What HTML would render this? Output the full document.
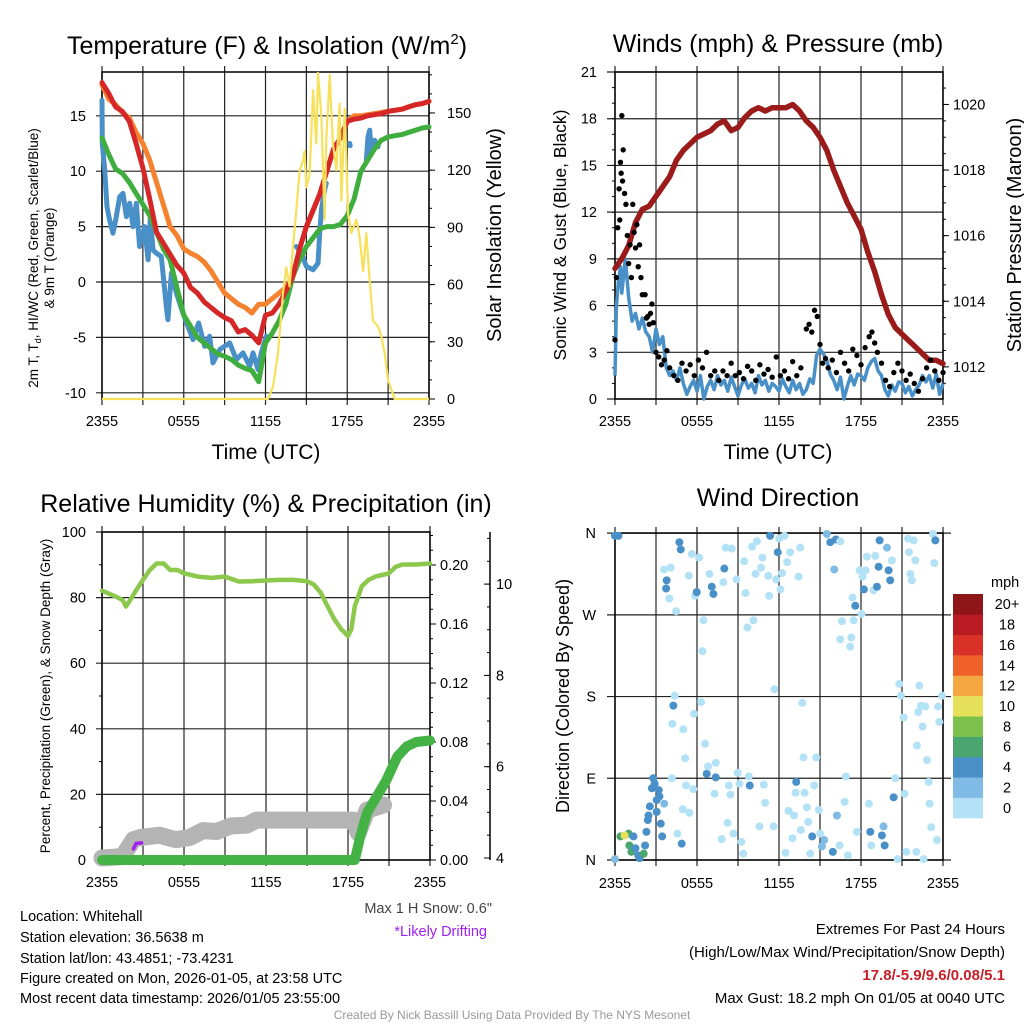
<!DOCTYPE html>
<html><head><meta charset="utf-8"><style>
html,body{margin:0;padding:0;background:#fff}
svg{display:block;font-family:"Liberation Sans",sans-serif}
</style></head><body>
<svg id="fig" width="1024" height="1024" viewBox="0 0 1024 1024" xmlns="http://www.w3.org/2000/svg">
<rect width="1024" height="1024" fill="#fff"/>
<g id="g1"></g>
<g id="g2"></g>
<g id="g3"></g>
<g id="g4"></g>
<text x="267" y="54" font-size="25" text-anchor="middle">Temperature (F) &amp; Insolation (W/m<tspan dy="-10" font-size="15">2</tspan><tspan dy="10">)</tspan></text>
<text x="778" y="52" font-size="25" text-anchor="middle">Winds (mph) &amp; Pressure (mb)</text>
<text x="266" y="512" font-size="25" text-anchor="middle">Relative Humidity (%) &amp; Precipitation (in)</text>
<text x="778" y="506" font-size="25" text-anchor="middle">Wind Direction</text>
<text x="266" y="459" font-size="21" text-anchor="middle">Time (UTC)</text>
<text x="778" y="459" font-size="21" text-anchor="middle">Time (UTC)</text>
<text transform="translate(38,258) rotate(-90)" font-size="13.5" text-anchor="middle">2m T, T<tspan font-size="9" dy="3">d</tspan><tspan dy="-3">, HI/WC (Red, Green, Scarlet/Blue)</tspan></text>
<text transform="translate(54,258) rotate(-90)" font-size="13.5" text-anchor="middle">&amp; 9m T (Orange)</text>
<text transform="translate(501,235) rotate(-90)" font-size="20" text-anchor="middle">Solar Insolation (Yellow)</text>
<text transform="translate(566,235) rotate(-90)" font-size="17.5" text-anchor="middle">Sonic Wind &amp; Gust (Blue, Black)</text>
<text transform="translate(1021,235) rotate(-90)" font-size="20" text-anchor="middle">Station Pressure (Maroon)</text>
<text transform="translate(50,696) rotate(-90)" font-size="13.5" text-anchor="middle">Percent, Precipitation (Green), &amp; Snow Depth (Gray)</text>
<text transform="translate(569,696) rotate(-90)" font-size="18" text-anchor="middle">Direction (Colored By Speed)</text>
<g font-size="14.5">
<text x="20" y="921">Location: Whitehall</text>
<text x="20" y="942">Station elevation: 36.5638 m</text>
<text x="20" y="963">Station lat/lon: 43.4851; -73.4231</text>
<text x="20" y="983">Figure created on Mon, 2026-01-05, at 23:58 UTC</text>
<text x="20" y="1003">Most recent data timestamp: 2026/01/05 23:55:00</text>
</g>
<text x="492" y="913" font-size="14.5" text-anchor="end" fill="#444">Max 1 H Snow: 0.6"</text>
<text x="487" y="936" font-size="14.5" text-anchor="end" fill="#a020f0">*Likely Drifting</text>
<g font-size="15" text-anchor="end">
<text x="1005" y="934">Extremes For Past 24 Hours</text>
<text x="1005" y="957">(High/Low/Max Wind/Precipitation/Snow Depth)</text>
<text x="1005" y="980" fill="#c8202a" font-weight="bold">17.8/-5.9/9.6/0.08/5.1</text>
<text x="1005" y="1003">Max Gust: 18.2 mph On 01/05 at 0040 UTC</text>
</g>
<text x="512" y="1019" font-size="12" text-anchor="middle" fill="#999">Created By Nick Bassill Using Data Provided By The NYS Mesonet</text>
</svg>
<script>
// ===== Panel 1 data =====
const tempH = [0,0.5,1,1.5,2,2.5,3,3.5,4,4.5,5,5.5,6,6.5,7,7.5,8,8.5,9,9.5,10,10.5,11,11.5,12,12.5,13,13.5,14,14.5,15,15.5,16,16.5,17,17.5,18,18.5,19,19.5,20,20.5,21,21.5,22,22.5,23,23.5,24];
const tempRed = [18,17,15.8,15.4,14.5,12.5,10.3,7.5,4.5,3.5,2.5,1.5,0.8,-0.5,-1,-1.8,-2.3,-2.8,-3.2,-3.5,-4.5,-4.3,-4.8,-5.5,-3,-2.8,-2,-0.8,0.5,3,5,6.5,8,10,12,13,14.5,14.7,14.8,15,15.1,15.2,15.4,15.5,15.6,15.8,16,16.1,16.3];
const temp9m = [17.8,16.5,16,15.3,14.8,13.5,12.5,11,9,7,5,4.2,3,2.6,2.3,1.8,1,0,-1,-1.5,-2,-2.3,-2.8,-2,-2,-1.5,-1,-0.5,0.5,3,5,6.5,8,10,12,13,14.5,15,15,15.1,15.2,15.3,15.4,15.5,15.6,15.8,16,16.1,16.3];
const dewpt = [13,11.5,10.2,9.8,9,8,7,6,4.5,3,2,-0.5,-3,-4,-5,-5.5,-6,-6.5,-6.7,-7,-7.5,-7.8,-8,-9,-5.5,-4.6,-3.5,-2,0.5,2,3.2,4,4.8,5,5,5.2,6,7.5,10,11,12,12.8,13.1,13.2,13.3,13.5,13.7,13.9,14];
const chillH = [0,0.02,0.2,0.37,0.56,0.81,1.05,1.3,1.54,1.79,2.03,2.28,2.52,2.76,3.13,3.38,3.55,3.74,3.99,4.35,4.72,4.84,5.09,5.46,5.94,6.31,6.68,7.09,7.54,7.9,8.15,8.64,9.37,9.86,10.35,10.84,11.08,11.45,11.69,12.06,null,14.26,14.63,15,15.49,15.85,15.98,16.1,16.34,16.46,null,18.18,18.22,null,19.4,19.52,19.65,19.77,20.01,20.26];
const chillV = [16.4,12.5,10.1,6.8,5.6,4.4,5.9,7.7,8,5.9,7.1,5,7.1,3.2,5,2,5.9,2.9,2.6,2.3,-2.2,-3.4,0.8,-1,-2.8,-4,-5.2,-3.7,-5.8,-4.9,-7.3,-6.1,-5.5,-7,-6.4,-7.6,-6.4,-7.9,-6.4,-4.9,null,3.2,2.6,1.4,1.1,1.7,4.4,6.5,8.3,8.9,null,12.5,12.3,null,11,13.1,13.7,11.6,12.8,12.2];
const solarH = [0,12.18,12.55,12.92,13.28,13.53,13.77,14.02,14.26,14.51,14.76,14.87,15.0,15.24,15.49,15.73,15.85,16.1,16.34,16.46,16.71,16.95,17.2,17.44,17.57,17.81,18.06,18.3,18.67,18.91,19.16,19.4,19.65,19.89,20.26,20.5,20.75,20.99,21.48,24];
const solarW = [0,0,6.5,24,55,69,59,80,99,120,125,130,111,118,162,134,171,148,94,136,170,134,120,155,104,152,97,87,94,85,67,87,62,41,38,33,24,10,0,0];
const tempTicks = [-10,-5,0,5,10,15];
const solarTicks = [0,30,60,90,120,150];
const timeTicks = ["2355","0555","1155","1755","2355"];
// ===== Panel 2 data =====
const presH = tempH;
const pressure = [1015,1015.3,1015.7,1016.4,1016.8,1016.9,1017.2,1017.5,1017.8,1018.3,1018.6,1018.8,1019,1019.1,1019.2,1019.4,1019.5,1019.2,1019.3,1019.6,1019.8,1019.9,1019.8,1019.9,1019.9,1019.9,1020,1019.8,1019.5,1019.3,1019,1018.6,1018,1017.5,1017,1016.6,1016.2,1015.5,1014.9,1014.2,1013.6,1013.2,1013,1012.8,1012.6,1012.4,1012.2,1012.2,1012.1];
const windH = [0,0.1,0.25,0.4,0.5,0.75,1,1.25,1.5,1.75,2,2.25,2.5,2.75,3,3.25,3.5,3.75,4,4.25,4.5,4.75,5,5.25,5.5,5.75,6,6.25,6.5,6.75,7,7.25,7.5,7.75,8,8.25,8.5,8.75,9,9.25,9.5,9.75,10,10.25,10.5,10.75,11,11.25,11.5,11.75,12,12.25,12.5,12.75,13,13.25,13.5,13.75,14,14.25,14.5,14.75,15,15.25,15.5,15.75,16,16.25,16.5,16.75,17,17.25,17.5,17.75,18,18.25,18.5,18.75,19,19.25,19.5,19.75,20,20.25,20.5,20.75,21,21.25,21.5,21.75,22,22.25,22.5,22.75,23,23.25,23.5,23.75,24];
const windV = [1.5,6,7.5,8.5,6.8,9,6.5,5,5.5,4.5,5.2,4.3,4,3,4.5,3.5,4,2,1.5,1.8,1.2,2,1,0.3,0.8,1.2,0.5,1.5,0,0.8,1.2,0.6,1.5,0.9,1.2,0.5,1.4,0.8,0.2,0.9,1.3,0.7,1,0.4,1.5,0.9,1.2,0.5,1,0.8,0.5,1.3,0.8,0.4,1.2,0.6,1,0.3,0.6,1.3,1,2.8,3.2,2.9,2.5,1.6,1.2,0.6,1.4,0,0.8,1.5,0.9,1.6,1.5,1.2,2,2.4,2.6,1.8,1.5,0.6,0.2,0.9,0.5,1.1,1,0.4,0.8,0.2,0.6,0.9,1.5,1.1,1.5,0.7,1.6,0.3,1];
const gustH = [0,0.1,0.2,0.3,0.35,0.4,0.45,0.5,0.55,0.6,0.7,0.8,0.9,1.0,1.1,1.2,1.3,1.4,1.5,1.6,1.7,1.8,1.9,2.0,2.2,2.3,2.4,2.5,2.6,2.7,2.8,3.0,3.2,3.4,3.6,3.8,4.0,4.3,4.6,4.9,5.2,5.5,5.8,6.1,6.4,6.7,7,7.3,7.6,7.9,8.2,8.5,8.8,9.1,9.4,9.7,10,10.3,10.6,10.9,11.2,11.5,11.8,12.1,12.4,12.7,13,13.3,13.6,14,14.2,14.4,14.6,14.8,15,15.2,15.4,15.6,15.9,16.2,16.5,16.8,17.1,17.4,17.7,18,18.3,18.6,18.8,19,19.2,19.5,19.8,20.1,20.4,20.7,21,21.3,21.6,21.9,22.2,22.5,22.8,23.1,23.4,23.7,24];
const gustV = [3.8,7.8,11,13.5,11.5,15.2,14.5,18.2,14,16,13.2,12.5,10.5,8.7,9.9,7.8,12.5,10.7,9.7,11.2,8.5,9.9,7.8,6.7,6.7,5.2,5.3,4.8,5.5,6.1,4.9,3,2.7,2.2,2.5,3.1,2,1.5,1.2,2.3,1.8,2.2,1.5,2.5,2,3,1.5,1.8,1.2,1.8,1.5,2.3,1.5,1.7,1.3,2.1,1.8,1.2,2.2,1.6,1.9,1.4,2.7,1.5,1.8,1.3,2.4,1.5,2,4.5,4.8,4.3,5.7,5.3,3.5,2.3,2.6,2,2.5,1.7,3,2.3,1.8,3.2,2.8,2.2,3.3,4,4.3,3.6,3,2.3,1.2,0.8,1.7,2.3,1.8,1.2,1.6,1,0.5,1.3,2,2.5,1.8,1.2,1.7];
const windTicks = [0,3,6,9,12,15,18,21];
const presTicks = [1012,1014,1016,1018,1020];
// ===== Panel 3 data =====
const rhH = [0,1,1.5,1.75,2,2.5,3,3.5,4,4.5,5,5.5,6,7,8,9,10,11,12,13,14,15,15.5,16,16.5,17,17.5,18,18.25,18.5,18.75,19,19.5,20,20.5,21,21.5,22,23,24];
const rhV = [82.1,80.3,79.3,77.3,78.8,82.3,85.4,88.4,90.4,90.4,88.4,88.4,87.4,86.4,86,86.4,84.9,85,85.2,85.4,85.4,85,84,81.5,77.4,73.4,70.4,68.3,70.4,77.4,80.3,83.4,85.4,86.4,86.9,87.4,89.4,90.1,90.1,90.4];
const precipH = [0,18.5,18.9,19.4,20.1,20.8,21.6,22.3,23,24];
const precipV = [0,0,0.016,0.032,0.043,0.054,0.070,0.077,0.080,0.081];
const snowH = [0,1.5,2.3,2.8,4.2,5.4,6.4,7.4,8.4,9.4,10.6,11.3,18.4,18.75,19.4,20.6];
const snowV = [4.0,4.03,4.4,4.45,4.5,4.4,4.45,4.6,4.58,4.7,4.72,4.83,4.83,4.55,5.05,5.16];
const driftH = [2.3,2.5,2.9];
const driftV = [4.2,4.32,4.33];
const rhTicks = [0,20,40,60,80,100];
const precipTicks = [0,0.04,0.08,0.12,0.16,0.2];
const snowTicks = [4,6,8,10];
// ===== Panel 4 data =====
const dirH = [0,0.25,0,0.4,1.0,1.05,1.2,1.35,1.5,1.7,1.8,2.1,2.2,2.3,2.4,2.45,2.55,2.7,2.8,2.9,3.05,3.2,3.25,3.05,3.35,3.45,3.6,0.7,
3.59,3.78,3.74,3.98,4.08,4.47,4.71,4.81,4.15,4.27,4.37,4.2,4.57,4.88,5.0,4.96,5.2,5.13,5.44,5.4,5.62,5.74,5.79,5.86,5.98,6.15,6.3,6.4,6.47,6.59,6.71,6.81,6.91,7.08,7.2,7.37,7.37,7.28,7.81,7.93,8.0,8.1,8.23,8.33,8.45,8.54,8.67,8.89,8.98,9.11,9.25,9.38,9.45,9.55,9.69,9.86,9.79,10.03,10.13,10.28,10.38,10.57,10.69,10.79,10.89,10.99,11.21,11.28,11.35,11.6,11.67,11.79,11.91,12.01,12.11,12.23,12.4,12.48,12.6,12.7,12.82,12.99,13.11,13.21,13.26,13.43,13.55,13.6,13.7,13.79,13.87,14.04,14.14,14.28,14.43,14.58,14.72,14.92,15.01,15.14,15.31,15.5,15.75,15.94,16.04,16.16,16.24,16.43,16.48,16.6,16.48,16.8,16.89,17.04,17.21,17.29,17.38,17.46,17.58,17.7,17.9,18.04,18.12,18.21,18.33,18.43,18.58,18.68,18.75,18.92,19.04,19.17,19.29,19.36,19.53,19.65,19.73,19.9,20.02,20.14,20.26,20.39,20.51,20.68,20.8,20.92,21.12,21.19,21.31,21.44,21.51,21.61,21.73,21.85,21.97,22.05,22.09,22.19,22.27,22.39,22.51,22.58,22.71,22.83,22.95,23.02,23.14,23.27,23.36,23.44,23.56,23.63,23.73,23.93];
const dirDeg = [357,357,1,26,29,16,9,26,13,5,2,7,16,31,44,49,59,79,90,84,66,77,70,53,40,26,62,27,
320,308,299,288,322,274,350,342,90,170,181,150,29,18,144,56,82,112,52,313,337,78,161,291,295,333,174,230,264,128,95,103,315,301,293,107,91,73,23,306,321,344,41,82,72,343,29,309,96,84,20,7,329,294,256,82,92,345,264,315,351,37,322,333,83,63,313,291,357,37,188,309,339,354,298,316,357,8,328,54,339,24,49,74,86,312,344,33,173,113,74,58,42,7,26,82,113,55,29,15,22,359,350,9,320,353,49,16,351,263,243,64,92,5,235,245,289,264,280,31,319,271,312,298,319,334,62,31,16,297,335,301,323,352,27,37,16,344,319,308,330,69,90,1,194,181,157,73,9,354,339,315,308,352,330,9,126,163,192,170,147,1,169,110,86,62,36,359,327,352,22,169,152,181];
const dirSpd = [5,5,3,7,7,7,7,5,5,5,5,7,5,5,5,5,5,5,5,5,5,5,5,5,5,5,3,10,
1,5,5,1,1,1,5,5,1,5,1,1,1,5,1,1,1,1,1,1,1,1,1,1,5,1,1,1,1,1,5,1,1,5,5,1,5,1,1,1,5,1,1,1,1,1,1,1,1,1,1,1,1,1,1,5,1,1,1,1,1,1,1,1,1,1,1,1,5,1,1,1,5,1,1,1,1,1,1,1,1,1,1,1,5,1,1,1,1,1,1,1,1,1,5,1,1,1,1,3,3,3,5,5,3,5,3,1,1,1,1,1,1,1,1,1,1,1,5,1,1,1,1,5,1,1,1,5,1,1,1,5,5,5,5,3,5,3,5,5,1,5,1,1,1,1,1,1,1,1,1,1,1,1,1,1,1,1,1,1,1,1,1,1,1,1,1,1,1,5,1,1,1,1];
const cbLabels = ["0","2","4","6","8","10","12","14","16","18","20+"];
const cbColors = ["#b3e2f6","#7fbbe4","#4a90c8","#4aa66e","#7bc14a","#e6e05a","#f5a742","#ef6129","#d93127","#b81c22","#8e1518"];
const dirTicks = ["N","E","S","W","N"];

const NS="http://www.w3.org/2000/svg";
function el(parent, tag, attrs){const e=document.createElementNS(NS,tag);for(const k in attrs)e.setAttribute(k,attrs[k]);parent.appendChild(e);return e;}
function pathD(hs, vs, sx, sy){let d="",pen=false;for(let i=0;i<hs.length;i++){if(hs[i]===null||vs[i]===null){pen=false;continue;}d+=(pen?"L":"M")+sx(hs[i]).toFixed(1)+","+sy(vs[i]).toFixed(1);pen=true;}return d;}
function grid(g,x0,x1,y0,y1,yVals,sy,extL,extR){
  for(let k=0;k<=8;k++){const x=x0+k*(x1-x0)/8;
    const l=el(g,"line",{x1:x,x2:x,y1:y0-6,y2:y1+6,stroke:"#222","stroke-width":1.2});
    
    }
  yVals.forEach(v=>{const y=sy(v);
    const l=el(g,"line",{x1:x0-extL,x2:x1+extR,y1:y,y2:y,stroke:"#222","stroke-width":1.2});
    
    });
  const r=el(g,"rect",{x:x0,y:y0,width:x1-x0,height:y1-y0,fill:"none",stroke:"#000","stroke-width":1.5});
  
  
}
function xlabels(g,x0,x1,y){timeTicks.forEach((t,i)=>{
  const e=el(g,"text",{x:x0+i*(x1-x0)/4,y:y,"font-size":14.5,"text-anchor":"middle"});e.textContent=t;
  
  });}
function ylabel(g,x,y,txt,anchor){const e=el(g,"text",{x:x,y:y+5,"font-size":14.5,"text-anchor":anchor});e.textContent=txt;
  
  return e;}

// ---------- Panel 1 ----------
(function(){
const g=document.getElementById("g1");
const x0=102,x1=429,y0=72,y1=399;
const sx=h=>x0+h*(x1-x0)/24, sy=v=>282-v*11.08, ss=w=>399-w*1.907;
grid(g,x0,x1,y0,y1,tempTicks,sy,6,0);
tempTicks.forEach(v=>ylabel(g,86,sy(v),String(v),"end"));
solarTicks.forEach(v=>{ylabel(g,447,ss(v),String(v),"start");el(g,"line",{x1:x1,x2:x1+6,y1:ss(v),y2:ss(v),stroke:"#000"});});
for(let w=10;w<180;w+=10){el(g,"line",{x1:x1,x2:x1+3,y1:ss(w),y2:ss(w),stroke:"#000"});}
xlabels(g,x0,x1,426);
const series=[[chillH,chillV,"#4a90c8","wind-chill-line"],[tempH,dewpt,"#3fae3f","dewpoint-line"],[tempH,temp9m,"#f5822f","temp-9m-line"],[tempH,tempRed,"#d62728","temp-2m-line"]];
series.forEach(s=>{const p=el(g,"path",{d:pathD(s[0],s[1],sx,sy),fill:"none",stroke:s[2],"stroke-width":5,"stroke-linejoin":"round","stroke-linecap":"round"});
  
  });
const sp=el(g,"path",{d:pathD(solarH,solarW,sx,ss),fill:"none",stroke:"#f7e05a","stroke-width":2.2,"stroke-linejoin":"round"});


})();

// ---------- Panel 2 ----------
(function(){
const g=document.getElementById("g2");
const x0=615,x1=943,y0=72,y1=399;
const sx=h=>x0+h*(x1-x0)/24, sy=v=>399-v*15.57, sp=p=>399-(p-1011.02)*32.8;
grid(g,x0,x1,y0,y1,windTicks,sy,8,0);
windTicks.forEach(v=>ylabel(g,597,sy(v),String(v),"end"));
for(let v=1;v<21;v++){el(g,"line",{x1:x0-3,x2:x0,y1:sy(v),y2:sy(v),stroke:"#000"});}
presTicks.forEach(v=>{ylabel(g,953,sp(v),String(v),"start");el(g,"line",{x1:x1,x2:x1+6,y1:sp(v),y2:sp(v),stroke:"#000"});});
for(let p=1011.5;p<1021;p+=0.5){el(g,"line",{x1:x1,x2:x1+3,y1:sp(p),y2:sp(p),stroke:"#000"});}
xlabels(g,x0,x1,426);
const w=el(g,"path",{d:pathD(windH,windV,sx,sy),fill:"none",stroke:"#4a90c8","stroke-width":3.5,"stroke-linejoin":"round"});


const p=el(g,"path",{d:pathD(presH,pressure,sx,sp),fill:"none",stroke:"#9b1b1b","stroke-width":5.5,"stroke-linejoin":"round","stroke-linecap":"round"});


for(let i=0;i<gustH.length;i++){const c=el(g,"circle",{cx:sx(gustH[i]),cy:sy(gustV[i]),r:2.7,fill:"#000"});
  
  }
})();

// ---------- Panel 3 ----------
(function(){
const g=document.getElementById("g3");
const x0=102,x1=430,y0=532,y1=860;
const sx=h=>x0+h*(x1-x0)/24, sy=v=>860-v*3.28, spr=v=>860-v*1475, ssn=v=>858-(v-4)*45.65;
grid(g,x0,x1,y0,y1,rhTicks,sy,6,0);
rhTicks.forEach(v=>ylabel(g,86,sy(v),String(v),"end"));
for(let v=10;v<100;v+=20){el(g,"line",{x1:x0-3,x2:x0,y1:sy(v),y2:sy(v),stroke:"#000"});}
precipTicks.forEach(v=>{ylabel(g,440,spr(v),v.toFixed(2),"start");el(g,"line",{x1:x1,x2:x1+6,y1:spr(v),y2:spr(v),stroke:"#000"});});
for(let v=0.01;v<0.225;v+=0.01){el(g,"line",{x1:x1,x2:x1+3,y1:spr(v),y2:spr(v),stroke:"#000"});}
const ax=el(g,"line",{x1:490,x2:490,y1:532,y2:860,stroke:"#000","stroke-width":1.5});


snowTicks.forEach(v=>{ylabel(g,496,ssn(v),String(v),"start");el(g,"line",{x1:484,x2:490,y1:ssn(v),y2:ssn(v),stroke:"#000"});});
for(let v=4.5;v<11.2;v+=0.5){el(g,"line",{x1:487,x2:490,y1:ssn(v),y2:ssn(v),stroke:"#000"});}
xlabels(g,x0,x1,887);
const rh=el(g,"path",{d:pathD(rhH,rhV,sx,sy),fill:"none",stroke:"#8cc84b","stroke-width":4.5,"stroke-linejoin":"round","stroke-linecap":"round"});


const sn=el(g,"path",{d:pathD(snowH,snowV,sx,ssn),fill:"none",stroke:"#b4b4b4","stroke-width":17,"stroke-linejoin":"round","stroke-linecap":"round"});


const dr=el(g,"path",{d:pathD(driftH,driftV,sx,ssn),fill:"none",stroke:"#a020f0","stroke-width":3.5,"stroke-linecap":"round"});


const pr=el(g,"path",{d:pathD(precipH,precipV,sx,spr),fill:"none",stroke:"#44b244","stroke-width":10,"stroke-linejoin":"round","stroke-linecap":"round"});


})();

// ---------- Panel 4 ----------
(function(){
const g=document.getElementById("g4");
const x0=615,x1=943,y0=533,y1=860;
const sx=h=>x0+h*(x1-x0)/24, sy=d=>860-d*0.908;
grid(g,x0,x1,y0,y1,[0,90,180,270,360],sy,8,8);
dirTicks.forEach((t,i)=>ylabel(g,596,sy(i*90),t,"end"));
xlabels(g,x0,x1,888);
function col(s){let i=Math.floor(s/2);if(i>10)i=10;if(i<0)i=0;return cbColors[i];}
for(let i=0;i<dirH.length;i++){const c=el(g,"circle",{cx:sx(dirH[i]),cy:sy(dirDeg[i]),r:4,fill:col(dirSpd[i])});
  
  }
const t=el(g,"text",{x:991,y:587,"font-size":14.5});t.textContent="mph";


const bh=(818-594)/11;
for(let i=0;i<11;i++){const y=818-(i+1)*bh;
  const r=el(g,"rect",{x:953,y:y,width:30,height:bh+0.3,fill:cbColors[i]});
  
  
  const l=el(g,"text",{x:1007,y:y+bh/2+5,"font-size":14.5,"text-anchor":"middle"});l.textContent=cbLabels[i];
  
  }
})();
</script>
</body></html>
